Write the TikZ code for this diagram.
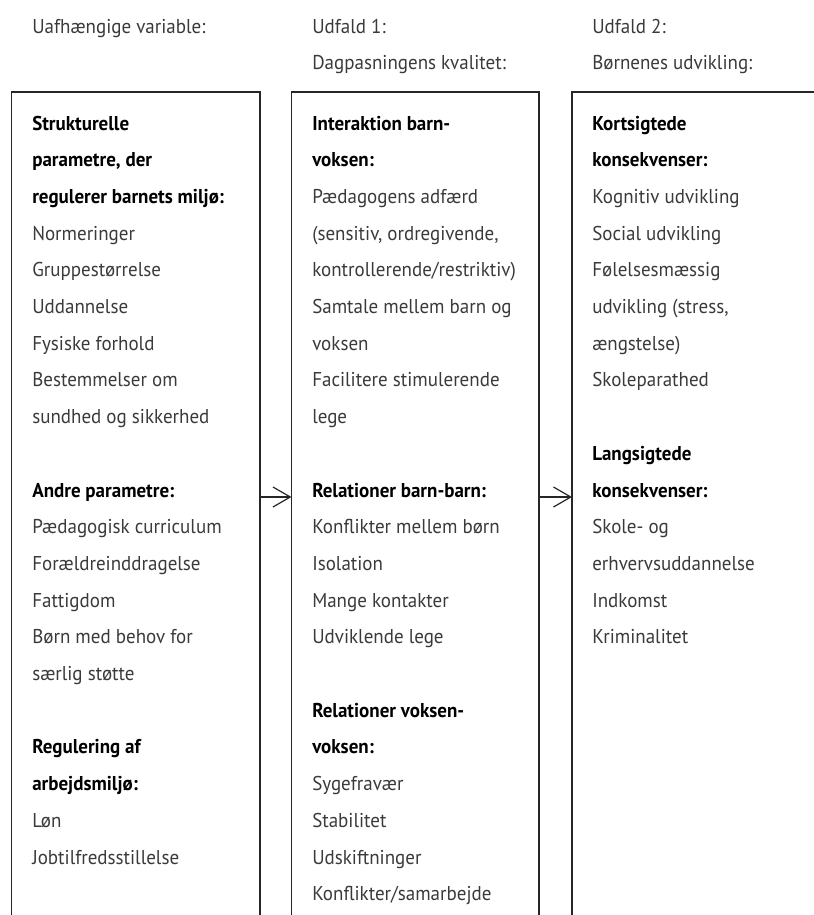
\documentclass[tikz,border=0pt]{standalone}
\usepackage{fontspec}
\setmainfont{PT Sans}[FakeStretch=0.95]
\usetikzlibrary{arrows.meta}
\definecolor{txtgray}{HTML}{3A3A3A}
\newcommand{\hdl}[1]{{\bfseries\color{black}#1}} % heading lines in the boxes
\newcommand{\itemcol}[4]{% prefix, x, first line, lines
  \foreach \txt [count=\i from #3] in {#4}{
      \node[item] (#1-\i) at (#2,{130+36.7*(\i-1)}) {\txt}; % one line of text
    }}

\begin{document}
\begin{tikzpicture}[x=0.75pt,y=-0.75pt,
    line/.style={draw=black!85,line width=0.9pt},
    item/.style={anchor=base west,inner sep=0pt,font=\fontsize{15}{18}\selectfont,text=txtgray},
    arr/.style={line,-{Straight Barb[length=13pt,width=15pt]}}]
    \useasboundingbox (0,0) rectangle (814,915);

    % headings over the columns
    \node[item] (h1) at (32,33) {Uafhængige variable:};
    \node[item] (h2a) at (312,33) {Udfald 1:};
    \node[item] (h2b) at (312,69) {Dagpasningens kvalitet:};
    \node[item] (h3a) at (592,33) {Udfald 2:};
    \node[item] (h3b) at (592,69) {Børnenes udvikling:};

    % the boxes, open at the bottom
    \draw[line] (11.5,915) -- (11.5,92) -- (260,92) -- (260,915);
    \draw[line] (291.5,915) -- (291.5,92) -- (539,92) -- (539,915);
    \draw[line] (572,915) -- (572,92) -- (814,92);

    % first column
    \itemcol{b1}{32}{1}{\hdl{Strukturelle},\hdl{parametre, der},\hdl{regulerer barnets miljø:},
        Normeringer,Gruppestørrelse,Uddannelse,Fysiske forhold,Bestemmelser om,sundhed og sikkerhed}
    \itemcol{b1}{32}{11}{\hdl{Andre parametre:},Pædagogisk curriculum,Forældreinddragelse,
        Fattigdom,Børn med behov for,særlig støtte}
    \itemcol{b1}{32}{18}{\hdl{Regulering af},\hdl{arbejdsmiljø:},Løn,Jobtilfredsstillelse}

    % second column
    \itemcol{b2}{312}{1}{\hdl{Interaktion barn-},\hdl{voksen:},Pædagogens adfærd,
        {(sensitiv, ordregivende,},kontrollerende/restriktiv),Samtale mellem barn og,
        voksen,Facilitere stimulerende,lege}
    \itemcol{b2}{312}{11}{\hdl{Relationer barn-barn:},Konflikter mellem børn,Isolation,
        Mange kontakter,Udviklende lege}
    \itemcol{b2}{312}{17}{\hdl{Relationer voksen-},\hdl{voksen:},Sygefravær,Stabilitet,
        Udskiftninger,Konflikter/samarbejde}

    % third column
    \itemcol{b3}{592}{1}{\hdl{Kortsigtede},\hdl{konsekvenser:},Kognitiv udvikling,
        Social udvikling,Følelsesmæssig,{udvikling (stress,},ængstelse),Skoleparathed}
    \itemcol{b3}{592}{10}{\hdl{Langsigtede},\hdl{konsekvenser:},Skole- og,
        erhvervsuddannelse,Indkomst,Kriminalitet}

    % arrows between the boxes
    \coordinate (a1s) at (260,497);
    \coordinate (a1e) at (291.5,497);
    \coordinate (a2s) at (539,497);
    \coordinate (a2e) at (572,497);
    \draw[arr] (a1s) -- (a1e);
    \draw[arr] (a2s) -- (a2e);
\end{tikzpicture}
\end{document}
